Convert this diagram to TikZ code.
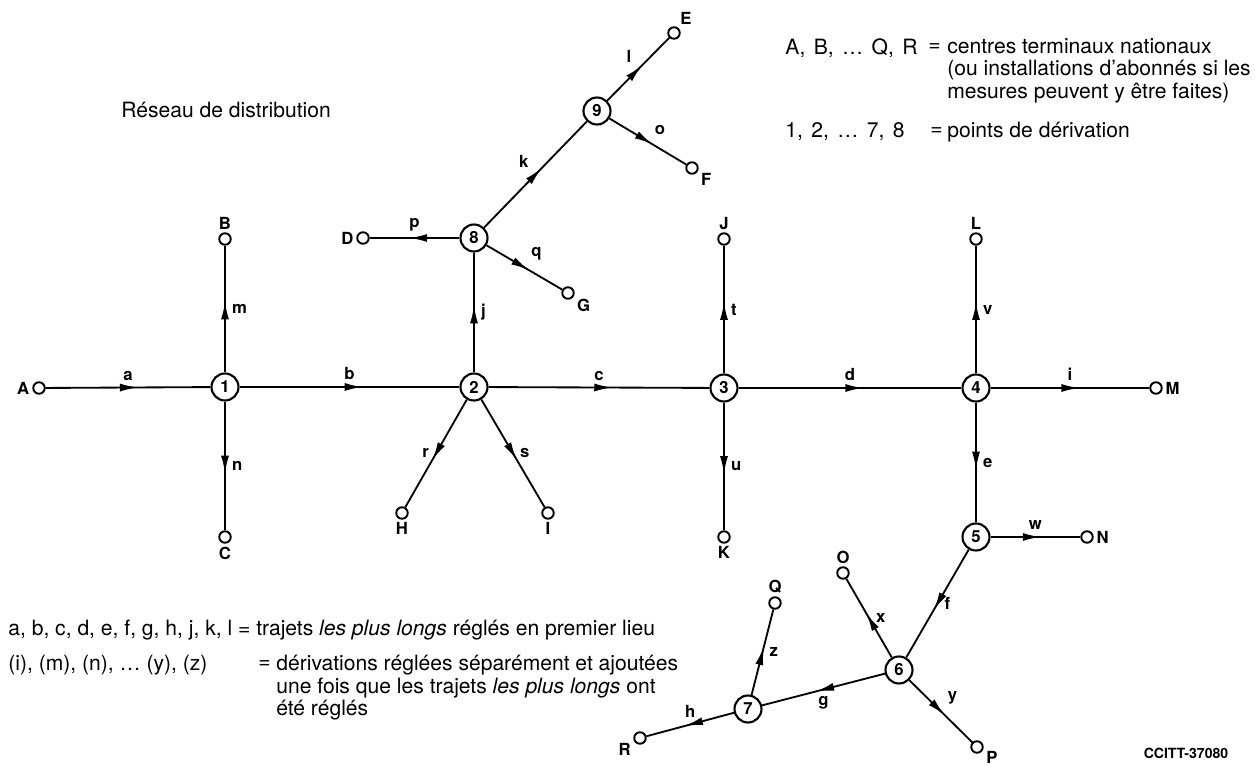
\documentclass[tikz,border=0pt]{standalone}
\usepackage{fontspec}
\setmainfont{TeX Gyre Heros}
\usetikzlibrary{arrows.meta,decorations.markings}

\tikzset{
  term/.style={draw, circle, line width=1.1pt, inner sep=0pt, minimum size=2.3mm},
  junc/.style={draw, circle, line width=1.2pt, inner sep=0pt, minimum size=5.4mm,
    font=\bfseries\fontsize{9.5}{9.5}\selectfont},
  link/.style={line width=1.05pt, postaction={decorate},
    decoration={markings, mark=at position 0.56 with {\arrow{Latex[length=3.6mm,width=1.6mm]}}}},
  lbl/.style={font=\bfseries\fontsize{9.5}{9.5}\selectfont, inner sep=3.5pt},
  tlbl/.style={font=\bfseries\fontsize{9.5}{9.5}\selectfont, inner sep=1.5pt},
  legend/.style={font=\fontsize{12}{12.8}\selectfont, align=left, inner sep=0pt},
}
\newcommand{\gap}{\hspace{0.4em}}

\begin{document}
\begin{tikzpicture}[x=0.02cm, y=-0.02cm]
\useasboundingbox (0,0) rectangle (1255,766);

% points de derivation
\foreach \n/\x/\y in {1/225/387, 2/474/387, 3/724/388, 4/976/388, 5/976/537,
                      6/899/670, 7/748/709, 8/474/238, 9/597/111}
  \node[junc] (n\n) at (\x,\y) {\n};

% centres terminaux
\foreach \name/\x/\y/\where in {A/39/388/left, B/225/239/above, C/225/537/below,
    D/363/238/left, E/674/33/60, F/692/168/-25, G/568/293/-25,
    H/402/513/below, I/548/513/below, J/724/239/above, K/724/537/below,
    L/976/239/above, M/1156/388/right, N/1087/537/right, O/843/573/above,
    P/977/747/-15, Q/775/603/above, R/640/738/200}
  \node[term, label={[tlbl]\where:\name}] (\name) at (\x,\y) {};

% trajets
\foreach \s/\t/\l/\w in {A/n1/a/above, n1/n2/b/above, n2/n3/c/above, n3/n4/d/above,
    n4/M/i/above, n1/B/m/right, n1/C/n/right, n2/n8/j/right, n8/D/p/above,
    n8/G/q/above right, n8/n9/k/above left, n9/E/l/above left, n9/F/o/above right,
    n2/H/r/left, n2/I/s/right, n3/J/t/right, n3/K/u/right, n4/L/v/right,
    n4/n5/e/right, n5/N/w/above, n5/n6/f/right, n6/O/x/right, n6/P/y/above right,
    n6/n7/g/below, n7/Q/z/right, n7/R/h/above}
  \draw[link] (\s) -- node[lbl, \w] {\l} (\t);

% textes
\node[legend, anchor=west] (titre) at (121,110) {Réseau de distribution};

\node[legend, anchor=west] (cle1) at (785,48) {A,\gap B,\gap\dots\gap Q,\gap R};
\node[legend, anchor=west] (eg1) at (928,48) {=};
\node[legend, anchor=north west] (def1) at (947,38) {centres terminaux nationaux\\
  (ou installations d'abonnés si les\\ mesures peuvent y être faites)};
\node[legend, anchor=west] (cle2) at (785,132) {1,\gap 2,\gap\dots\gap 7,\gap 8};
\node[legend, anchor=west] (eg2) at (930,132) {=};
\node[legend, anchor=west] (def2) at (947,132) {points de dérivation};

\node[legend, anchor=west] (cle3) at (8,630)
  {a, b, c, d, e, f, g, h, j, k, l = trajets \textit{les plus longs} réglés en premier lieu};
\node[legend, anchor=west] (cle4) at (8,665) {(i), (m), (n), \dots\ (y), (z)};
\node[legend, anchor=west] (eg4) at (258,665) {=};
\node[legend, anchor=north west] (def4) at (276,655) {dérivations réglées séparément et ajoutées\\
  une fois que les trajets \textit{les plus longs} ont\\ été réglés};

\node[font=\bfseries\fontsize{8}{8}\selectfont] (ref) at (1186,753) {CCITT-37080};
\end{tikzpicture}
\end{document}
